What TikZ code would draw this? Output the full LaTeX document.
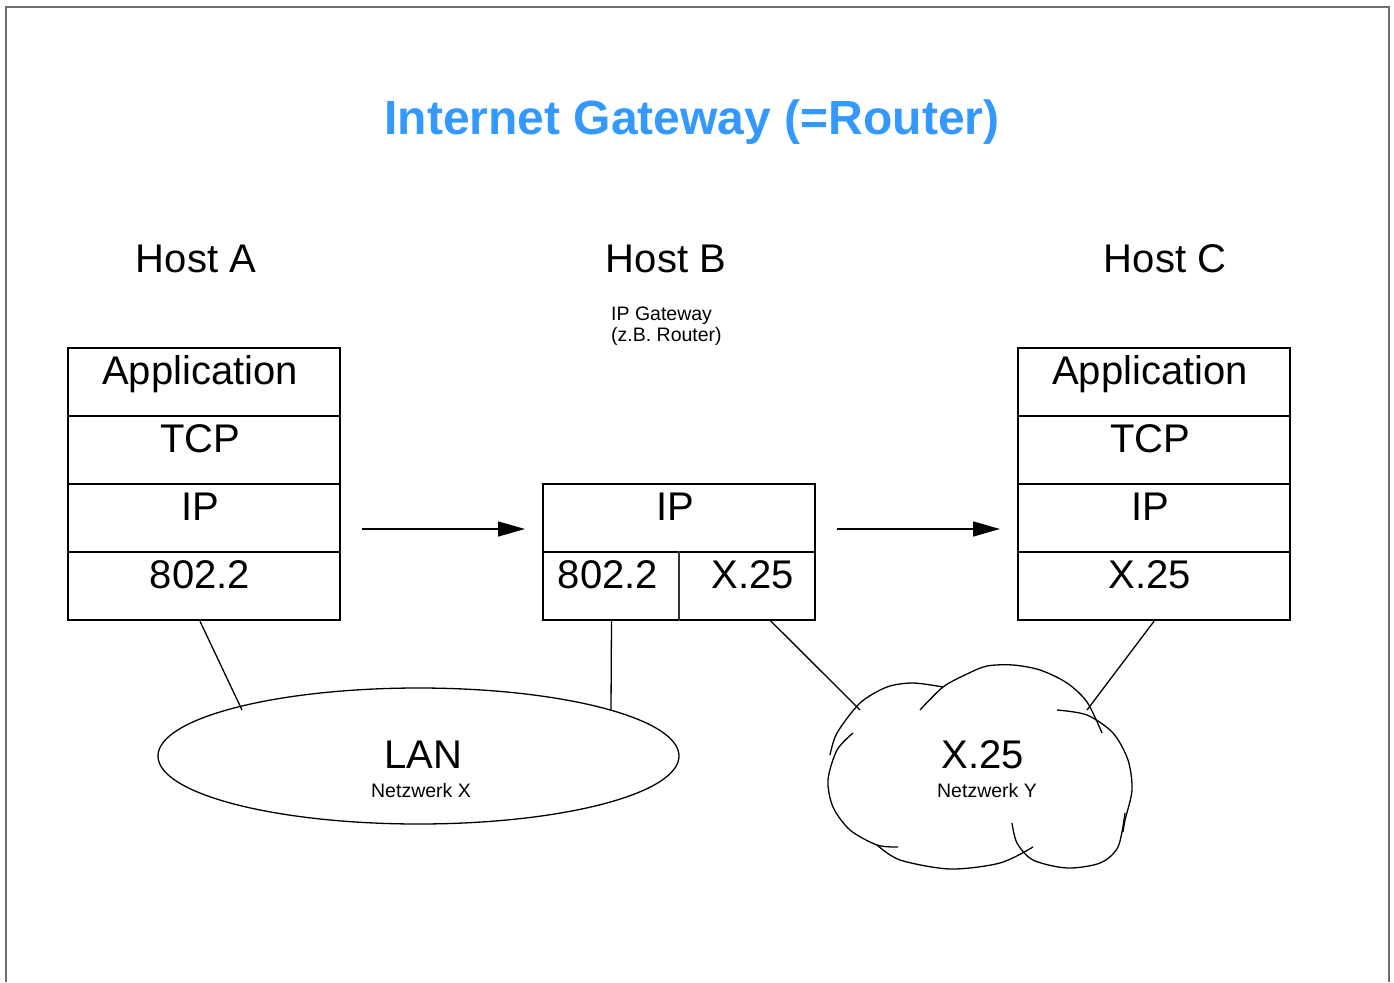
\documentclass[tikz,border=0pt]{standalone}
\usepackage{fontspec}
\setmainfont{Liberation Sans}
\usetikzlibrary{arrows.meta,shapes.geometric}
\definecolor{titleblue}{RGB}{51,153,255}
\definecolor{framegray}{RGB}{110,110,110}
\begin{document}
\begin{tikzpicture}[x=1pt,y=-1pt,
  big/.style={font=\fontsize{40}{44}\selectfont},
  small/.style={font=\fontsize{19.5}{21}\selectfont},
  cell/.style={draw,line width=2.5pt,minimum height=68pt,inner sep=0pt,
    text height=36pt,text depth=32pt,big},
  wide/.style={cell,minimum width=272pt},
  nudge/.style={execute at begin node={\kern#1pt}},
  wire/.style={line width=1.3pt},
  flow/.style={line width=1.3pt,-{Triangle[length=27pt,width=15pt]}},
  lbl/.style={anchor=base,inner sep=0pt}]
  % page and frame
  \useasboundingbox (0,0) rectangle (1394,982);
  \draw[framegray,line width=2pt] (6,982) -- (6,7) -- (1389,7) -- (1389,982);

  % title
  \node[lbl,font=\fontsize{48}{52}\selectfont\bfseries,text=titleblue] (title) at (692,134) {Internet Gateway (=Router)};

  % host captions
  \node[lbl,big] (hA) at (196,272) {Host A};
  \node[lbl,big] (hB) at (666,272) {Host B};
  \node[lbl,big] (hC) at (1165,272) {Host C};
  \node[lbl,small,anchor=base west] (gw1) at (611,320) {IP Gateway};
  \node[lbl,small,anchor=base west] (gw2) at (611,341) {(z.B. Router)};

  % Host A protocol stack
  \node[wide,nudge=-8] (a1) at (204,382) {Application};
  \node[wide,nudge=-8] (a2) at (204,450) {TCP};
  \node[wide,nudge=-8] (a3) at (204,518) {IP};
  \node[wide,nudge=-8] (a4) at (204,586) {802.2};

  % Host B (gateway): IP on top, two link layers below
  \node[wide,nudge=-8] (b1) at (679,518) {IP};
  \node[wide,text height=0pt,text depth=0pt] (blink) at (679,586) {};
  \node[inner sep=0pt,minimum width=137pt,minimum height=68pt,text height=36pt,text depth=32pt,big,nudge=-7] (b2) at (611.5,586) {802.2};
  \node[inner sep=0pt,minimum width=135pt,minimum height=68pt,text height=36pt,text depth=32pt,big,nudge=11] (b3) at (747.5,586) {X.25};
  \draw[line width=1.6pt,black!80] (blink.north) -- (blink.south);

  % Host C protocol stack
  \node[wide,nudge=-8] (c1) at (1154,382) {Application};
  \node[wide,nudge=-8] (c2) at (1154,450) {TCP};
  \node[wide,nudge=-8] (c3) at (1154,518) {IP};
  \node[wide,nudge=-8] (c4) at (1154,586) {X.25};

  % forwarding arrows
  \coordinate (f1s) at (362,529);
  \coordinate (f1e) at (525,529);
  \coordinate (f2s) at (837,529);
  \coordinate (f2e) at (1000,529);
  \draw[flow] (f1s) -- (f1e);
  \draw[flow] (f2s) -- (f2e);

  % LAN
  \node[draw,ellipse,line width=1.3pt,minimum width=521pt,minimum height=136pt,inner sep=0pt] (lan) at (418.5,756) {};
  \node[lbl,big] (lanT) at (423,768) {LAN};
  \node[lbl,small] (lanS) at (421,797) {Netzwerk X};

  % X.25 cloud
  \begin{scope}[line width=1.3pt]
    \draw plot[smooth] coordinates {(920,710) (943,687) (967,674) (987,666) (1013,665) (1040,670) (1067,683) (1087,702) (1102,733)};
    \draw plot[smooth] coordinates {(830,755) (837,733) (860,703) (887,687) (913,683) (943,687)};
    \draw plot[smooth] coordinates {(853,733) (837,750) (828,780) (833,807) (850,830) (877,845) (898,847)};
    \draw plot[smooth] coordinates {(877,845) (900,860) (950,869) (1000,863) (1033,847)};
    \draw plot[smooth] coordinates {(1012,823) (1017,843) (1033,860) (1067,868) (1100,863) (1118,847) (1125,813)};
    \draw plot[smooth] coordinates {(1057,710) (1087,715) (1113,733) (1128,760) (1132,790) (1125,820) (1123,832)};
  \end{scope}
  \node[lbl,big] (x25T) at (983,768) {X.25};
  \node[lbl,small] (x25S) at (987,797) {Netzwerk Y};

  % attachments to the networks
  \coordinate (lanA) at (242,710);
  \coordinate (lanB) at (611,710);
  \coordinate (cloudB) at (860,710);
  \coordinate (cloudC) at (1087,710);
  \draw[wire] ([xshift=-4pt]a4.south) -- (lanA);
  \draw[wire] (b2.south) -- (lanB);
  \draw[wire] ([xshift=22.5pt]b3.south) -- (cloudB);
  \draw[wire] (c4.south) -- (cloudC);
\end{tikzpicture}
\end{document}
